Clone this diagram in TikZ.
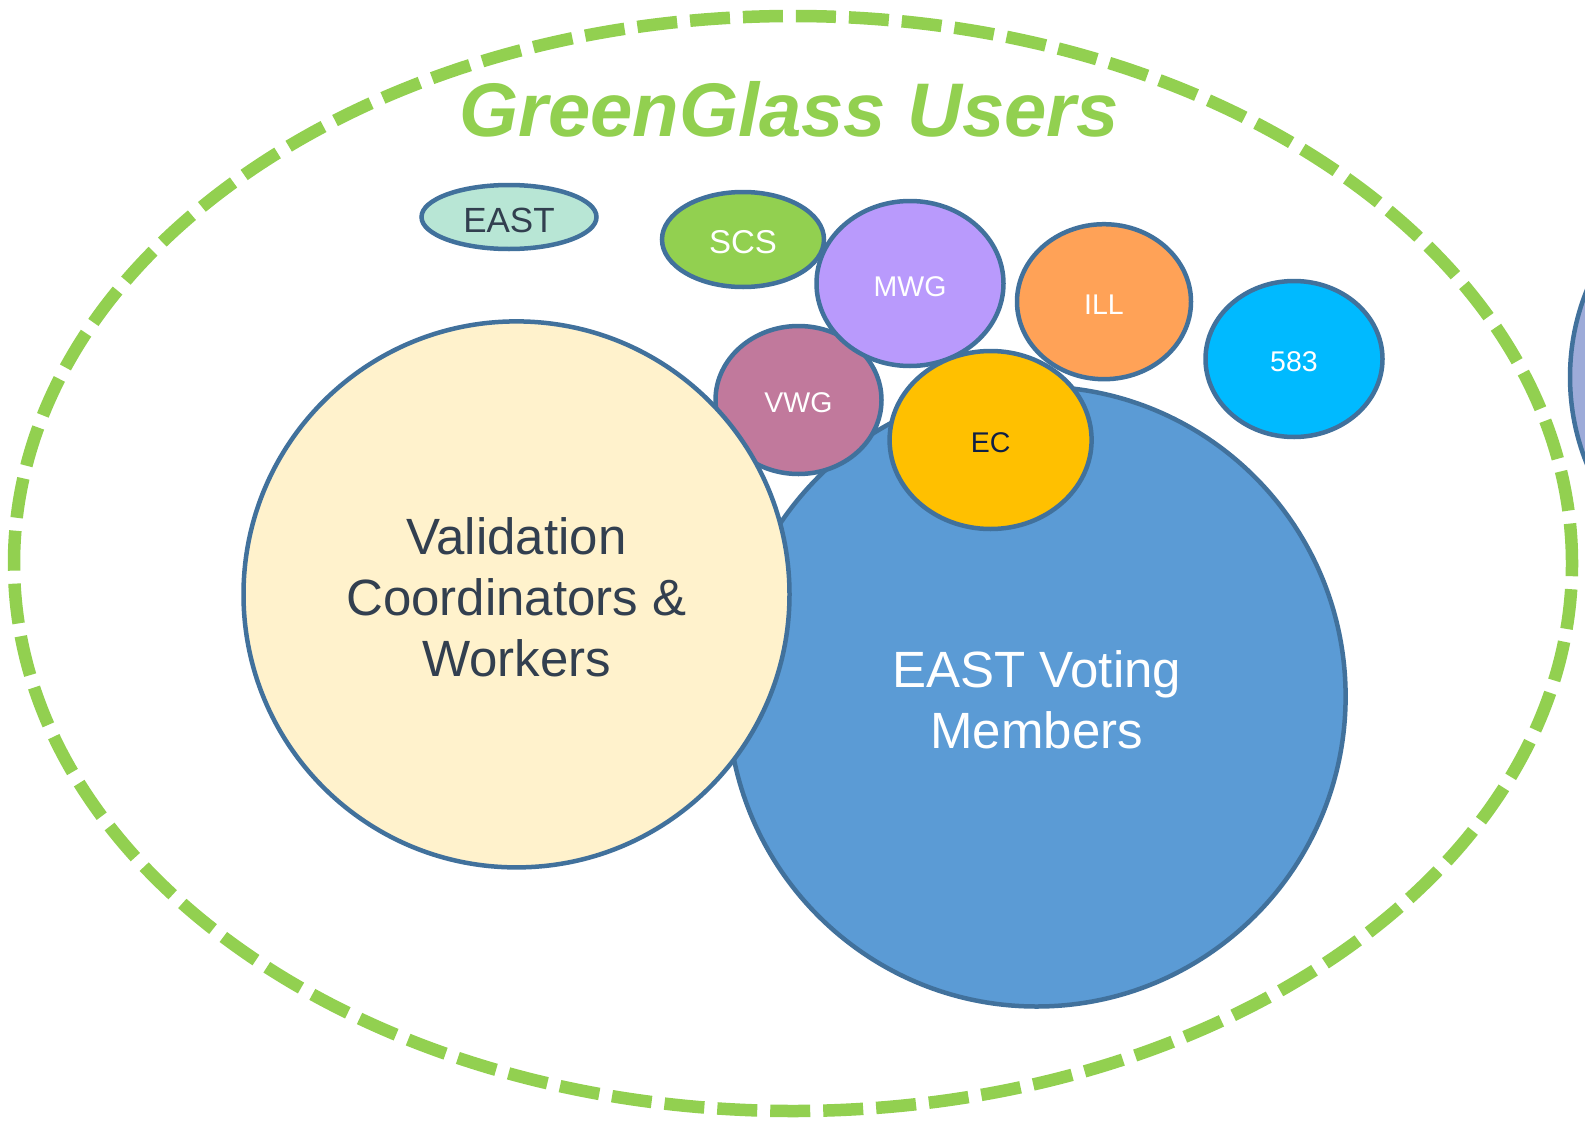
\documentclass[tikz,border=0pt]{standalone}
\usepackage{fontspec}
\setmainfont{Liberation Sans}
\usetikzlibrary{shapes.geometric}
\definecolor{strokeblue}{HTML}{41719C}
\definecolor{ggreen}{HTML}{92D050}
\definecolor{creamfill}{HTML}{FFF2CC}
\definecolor{votefill}{HTML}{5B9BD5}
\definecolor{eastfill}{HTML}{B8E6D5}
\definecolor{mwgfill}{HTML}{B99AFC}
\definecolor{illfill}{HTML}{FFA257}
\definecolor{ffcfill}{HTML}{00BAFF}
\definecolor{vwgfill}{HTML}{C1799C}
\definecolor{ecfill}{HTML}{FFC000}
\definecolor{lavfill}{HTML}{9DABD9}
\definecolor{darktext}{HTML}{323F4F}
\definecolor{navytext}{HTML}{0F1F45}
\tikzset{
  bubble/.style={ellipse, draw=strokeblue, line width=4.5pt, inner sep=0pt, align=center},
  bigtext/.style={font=\fontsize{51}{61}\selectfont},
  smalltext/.style={font=\fontsize{28.5}{32}\selectfont},
  lbl/.style={inner sep=0pt, align=center, yshift=-3pt},
}
\begin{document}
\begin{tikzpicture}[x=1pt,y=-1pt]
\useasboundingbox (0,0) rectangle (1585,1127);
\fill[white] (0,0) rectangle (1585,1127);
% partial ellipse at the right edge
\begin{scope}
\clip (0,0) rectangle (1585,1127);
\node[bubble, fill=lavfill, minimum width=464pt, minimum height=464pt] (rightgroup) at (1802,377) {};
\end{scope}
% outer dashed ellipse
\node[ellipse, draw=ggreen, line width=12.5pt, dash pattern=on 40pt off 13pt, minimum width=1558pt, minimum height=1095pt, inner sep=0pt] (users) at (793,563.5) {};
\node[text=ggreen, font=\fontsize{76}{80}\bfseries\itshape] (title) at (789,109) {GreenGlass Users};
% circles
\node[bubble, fill=votefill, minimum width=618pt, minimum height=620pt] (voting) at (1036.6,696.5) {};
\node[lbl, text=white, bigtext] (votingtext) at (voting.center) {EAST Voting\\Members};
\node[bubble, fill=vwgfill, minimum width=166pt, minimum height=148pt] (vwg) at (798.5,400) {};
\node[lbl, text=white, smalltext] (vwgtext) at (vwg.center) {VWG};
\node[bubble, fill=creamfill, minimum width=546pt, minimum height=546pt] (valid) at (516.5,594.4) {};
\node[lbl, text=darktext, bigtext] (validtext) at (valid.center) {Validation\\Coordinators \&\\Workers};
\node[bubble, fill=mwgfill, minimum width=187pt, minimum height=165pt] (mwg) at (910,283.5) {};
\node[lbl, text=white, smalltext] (mwgtext) at (mwg.center) {MWG};
\node[bubble, fill=ggreen, minimum width=162pt, minimum height=95pt] (scs) at (743,239.5) {};
\node[lbl, text=white, font=\fontsize{33}{36}\selectfont] (scstext) at (scs.center) {SCS};
\node[bubble, fill=ecfill, minimum width=202pt, minimum height=178pt] (ec) at (990.6,440) {};
\node[lbl, text=navytext, smalltext] (ectext) at (ec.center) {EC};
\node[bubble, fill=illfill, minimum width=174pt, minimum height=155pt] (ill) at (1104,301.7) {};
\node[lbl, text=white, smalltext] (illtext) at (ill.center) {ILL};
\node[bubble, fill=eastfill, minimum width=175pt, minimum height=64pt] (east) at (509,217) {};
\node[lbl, text=darktext, font=\fontsize{35}{38}\selectfont] (easttext) at (east.center) {EAST};
\node[bubble, fill=ffcfill, minimum width=177pt, minimum height=156pt] (n583) at (1294,359) {};
\node[lbl, text=white, smalltext] (n583text) at (n583.center) {583};
\end{tikzpicture}
\end{document}
